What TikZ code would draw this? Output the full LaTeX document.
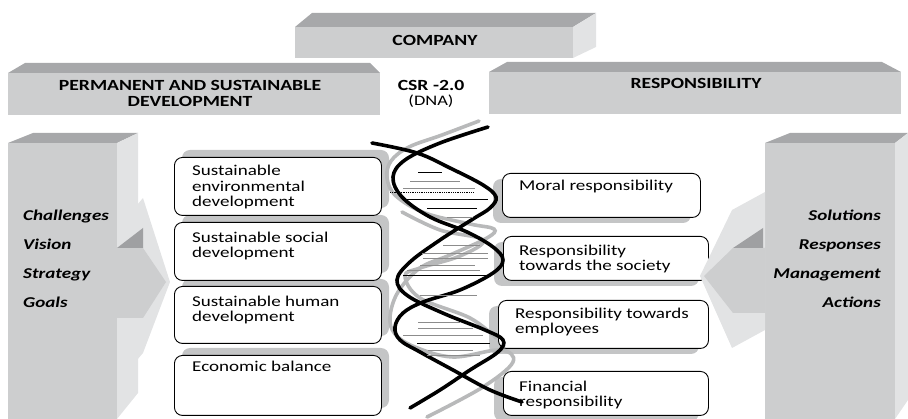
\documentclass[tikz,border=0pt]{standalone}
\usepackage{fontspec}
\setmainfont{Carlito}[FakeStretch=1.27]
\definecolor{bevel}{HTML}{A7A8AA}
\definecolor{face}{HTML}{CDCECF}
\definecolor{sideface}{HTML}{E2E3E4}
\definecolor{darkface}{HTML}{9FA0A2}
\definecolor{shade}{HTML}{C4C5C6}
\definecolor{strandgray}{HTML}{B8B9BA}
\definecolor{runggray}{HTML}{8C8C8C}
\begin{document}
\begin{tikzpicture}[x=1pt,y=-1pt,
  slab/.style={fill=face, inner sep=0pt, outer sep=0pt, anchor=north west},
  capt/.style={font=\bfseries\fontsize{15.5}{16}\selectfont, align=center, inner sep=0pt, anchor=base},
  lbl/.style={font=\bfseries\itshape\fontsize{15}{15}\selectfont, inner sep=0pt},
  card/.style={draw=black, line width=0.9pt, fill=white, rounded corners=8pt, inner sep=0pt, anchor=north west},
  cardshade/.style={fill=shade, rounded corners=8pt},
  txt/.style={font=\fontsize{15}{15.5}\selectfont, align=left, inner sep=0pt, anchor=base west},
  helix/.style={line width=3.6pt, line cap=round},
  rung/.style={line width=0.8pt}]
\useasboundingbox (0,0) rectangle (908,419);

% ---- upper slabs ----
\fill[bevel] (295,27) -- (312,13) -- (596,13) -- (573,27) -- cycle;
\node[slab, minimum width=278pt, minimum height=31pt] (company) at (295,27) {};
\fill[sideface] (company.north east) -- (596,13) -- (596,47) -- (company.south east) -- cycle;
\node[capt] (companyt) at (435,46) {COMPANY};

\fill[bevel] (8,73) -- (25,63) -- (370,63) -- (380,73) -- cycle;
\node[slab, minimum width=372pt, minimum height=42pt] (perm) at (8,73) {};
% base anchor of a multi-line node sits on its last line
\node[capt] (permt) at (190,107) {PERMANENT AND SUSTAINABLE\\DEVELOPMENT};

\fill[bevel] (489,72) -- (507,62) -- (882,62) -- (901,72) -- cycle;
\node[slab, minimum width=412pt, minimum height=42pt] (resp) at (489,72) {};
\node[capt] (respt) at (696,89) {RESPONSIBILITY};

\node[capt] (csr) at (431,91) {CSR -2.0};
\node[font=\fontsize{14.5}{15}\selectfont, inner sep=0pt, anchor=base] (dna) at (431,106) {(DNA)};

% ---- side pillars ----
\fill[bevel] (8,143) -- (33,133) -- (138,133) -- (117,143) -- cycle;
\node[slab, minimum width=109pt, minimum height=276pt] (leftp) at (8,143) {};
\fill[sideface] (leftp.north east) -- (138,133) -- (138,393) -- (leftp.south east) -- cycle;

\fill[bevel] (765,143) -- (790,133) -- (908,133) -- (895,143) -- cycle;
\node[slab, minimum width=130pt, minimum height=276pt] (rightp) at (765,143) {};
\fill[sideface] (rightp.north east) -- (908,133) -- (908,400) -- (rightp.south east) -- cycle;

% ---- pillar keywords ----
\node[lbl, anchor=base west] (ch) at (23,221) {Challenges};
\node[lbl, anchor=base west] (vi) at (23,250) {Vision};
\node[lbl, anchor=base west] (st) at (23,279) {Strategy};
\node[lbl, anchor=base west] (go) at (23,308) {Goals};
\node[lbl, anchor=base east] (so) at (881,221) {Solutions};
\node[lbl, anchor=base east] (re) at (881,250) {Responses};
\node[lbl, anchor=base east] (ma) at (881,279) {Management};
\node[lbl, anchor=base east] (ac) at (881,308) {Actions};

% ---- card shadows ----
\foreach \y/\h in {157/58, 222/58, 286/57, 355/60}
  \fill[cardshade] (182,\y-7) rectangle ++(207,\h);
\fill[cardshade] (493,179) rectangle ++(198,44);
\fill[cardshade] (494,242) rectangle ++(205,44);
\fill[cardshade] (489,306) rectangle ++(210,48);
\fill[cardshade] (494,377) rectangle ++(205,44);

% ---- cards, development side ----
\node[card, minimum width=207pt, minimum height=58pt] (l1) at (174,157) {};
\node[card, minimum width=207pt, minimum height=58pt] (l2) at (174,222) {};
\node[card, minimum width=207pt, minimum height=57pt] (l3) at (174,286) {};
\node[card, minimum width=207pt, minimum height=60pt] (l4) at (174,355) {};
\node[txt] (l1t) at (192,207) {Sustainable\\environmental\\development};
\node[txt] (l2t) at (192,258) {Sustainable social\\development};
\node[txt] (l3t) at (192,322) {Sustainable human\\development};
\node[txt] (l4t) at (192,372) {Economic balance};

% ---- cards, responsibility side ----
\node[card, minimum width=198pt, minimum height=44pt] (r1) at (502,173) {};
\node[card, minimum width=205pt, minimum height=44pt] (r2) at (503,236) {};
\node[card, minimum width=210pt, minimum height=48pt] (r3) at (498,300) {};
\node[card, minimum width=205pt, minimum height=44pt] (r4) at (503,371) {};
\node[txt] (r1t) at (519,191) {Moral responsibility};
\node[txt] (r2t) at (519,271) {Responsibility\\towards the society};
\node[txt] (r3t) at (515,334) {Responsibility towards\\employees};
\node[txt] (r4t) at (519,407) {Financial\\responsibility};

% ---- arrows leaving the pillars (over the cards) ----
\fill[sideface] (137,205) -- (143,198) -- (170,282) -- (143,353) -- (137,360) -- cycle;
\fill[face] (117,248) -- (143,248) -- (166,282) -- (143,318) -- (117,318) -- cycle;
\fill[darkface] (117,248) -- (143,228) -- (143,248) -- cycle;

\fill[sideface] (765,192) -- (732,210) -- (700,276) -- (732,348) -- (765,330) -- cycle;
\fill[face] (765,248) -- (733,248) -- (704,276) -- (733,313) -- (765,313) -- cycle;
\fill[darkface] (733,248) -- (763,228) -- (763,248) -- cycle;

% ---- double helix ----
\draw[helix, strandgray] plot[smooth, tension=0.6] coordinates {
  (479,121) (442,135) (409,147) (391,161) (387,178) (396,196) (425,213)
  (470,224) (494,229) (487,238) (450,255) (420,268) (398,292) (390,317)
  (395,334) (415,347) (453,357) (500,350) (513,362) (483,387) (427,417)};
\draw[helix, strandgray] plot[smooth, tension=0.6] coordinates {
  (402,212) (440,230) (483,240) (460,256) (420,268) (405,276) (420,298)
  (470,318) (496,338)};
\draw[helix, black] plot[smooth, tension=0.6] coordinates {
  (488,127) (440,143) (405,160) (393,177) (402,197) (430,217) (467,232)
  (493,247) (503,260) (493,273) (460,290) (423,302) (403,313) (395,327)
  (400,340) (420,352) (453,370) (490,390) (522,402)};
\draw[helix, black] plot[smooth, tension=0.6] coordinates {
  (372,143) (417,153) (450,168) (483,185) (496,197) (490,208) (473,219)
  (440,240) (410,262) (397,280) (408,296) (445,314) (485,330) (503,340)
  (498,352) (470,370) (440,390) (410,408)};

% ---- base pairs ----
\foreach \y/\a/\b/\c in {172/418/442/black, 181/410/460/runggray, 188/403/475/runggray,
   199/405/488/black, 208/427/477/black, 217/447/473/runggray,
   245/443/480/runggray, 253/422/488/runggray, 258/423/488/runggray,
   265/420/475/runggray, 270/407/480/runggray, 275/403/492/black,
   295/420/477/runggray, 322/418/460/runggray, 328/418/473/runggray,
   335/403/483/runggray, 343/417/490/black, 350/428/473/runggray,
   355/427/480/runggray}
  \draw[rung, \c] (\a,\y) -- (\b,\y);
\draw[rung, black, densely dotted] (390,192) -- (473,192);
\end{tikzpicture}
\end{document}
